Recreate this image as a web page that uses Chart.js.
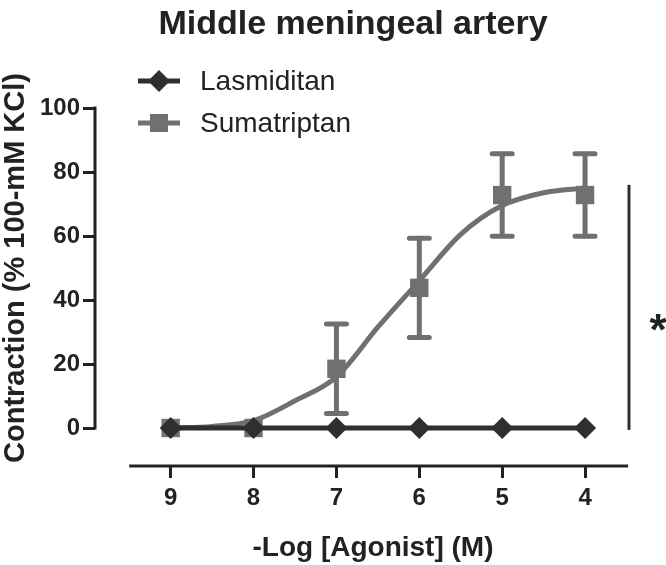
<!DOCTYPE html>
<html>
<head>
<meta charset="utf-8">
<script src="https://cdn.jsdelivr.net/npm/chart.js@4/dist/chart.umd.min.js"></script>
<style>
html, body { margin: 0; padding: 0; background: #fff; }
#myChart { display: block; }
</style>
</head>
<body>
<canvas id="myChart" width="666" height="565"></canvas>
<script>
// 数据 - Middle meningeal artery
var doses = [9, 8, 7, 6, 5, 4];
var lasmiditanMean = [0, 0, 0, 0, 0, 0];
var sumatriptanMean = [0, 0, 18.5, 43.8, 72.8, 72.8];
var sumatriptanSEM = [0, 0, 14, 15.5, 12.9, 12.9];
// fitted curve
var fitDoses = [9, 8.5, 8, 7.5, 7, 6.5, 6, 5.5, 5, 4.5, 4];
var sumatriptanFit = [0, 0.5, 2.3, 8.5, 16, 31.5, 46, 60.5, 69.5, 73.5, 75];
var xTicks = [9, 8, 7, 6, 5, 4];
var yTicks = [0, 20, 40, 60, 80, 100];
var seriesNames = ['Lasmiditan', 'Sumatriptan'];
var titleText = 'Middle meningeal artery';
var xTitle = '-Log [Agonist] (M)';
var yTitle = 'Contraction (% 100-mM KCl)';
var sigLabel = '*';

var darkColor = '#2f2f2f';
var sumaColor = '#707070';
var textColor = '#222';
var fontFamily = '"Liberation Sans", Arial, sans-serif';

function toXY(xs, ys) {
    return xs.map(function (v, i) { return { x: v, y: ys[i] }; });
}

// 坐标轴、标题、图例、误差线
var extras = {
    id: 'extras',
    beforeDatasetsDraw: function (chart) {
        var ctx = chart.ctx, xs = chart.scales.x, ys = chart.scales.y;
        ctx.save();
        ctx.strokeStyle = sumaColor;
        ctx.lineWidth = 5;
        ctx.lineCap = 'round';
        doses.forEach(function (d, i) {
            if (!sumatriptanSEM[i]) return;
            var px = xs.getPixelForValue(d);
            var top = ys.getPixelForValue(sumatriptanMean[i] + sumatriptanSEM[i]);
            var bot = ys.getPixelForValue(sumatriptanMean[i] - sumatriptanSEM[i]);
            ctx.beginPath();
            ctx.moveTo(px, top); ctx.lineTo(px, bot);
            ctx.moveTo(px - 10, top); ctx.lineTo(px + 10, top);
            ctx.moveTo(px - 10, bot); ctx.lineTo(px + 10, bot);
            ctx.stroke();
        });
        ctx.restore();
    },
    afterDraw: function (chart) {
        var ctx = chart.ctx, xs = chart.scales.x, ys = chart.scales.y, area = chart.chartArea;
        ctx.save();
        // axis lines (offset, Prism style)
        ctx.strokeStyle = '#222';
        ctx.lineWidth = 3;
        ctx.beginPath();
        ctx.moveTo(area.left, ys.getPixelForValue(0) + 1.5);
        ctx.lineTo(area.left, ys.getPixelForValue(100) - 1.5);
        ctx.moveTo(xs.getPixelForValue(9.5), area.bottom);
        ctx.lineTo(xs.getPixelForValue(3.48), area.bottom);
        ctx.stroke();

        // significance bar
        var sx = xs.getPixelForValue(3.47);
        ctx.strokeStyle = darkColor;
        ctx.lineWidth = 3;
        ctx.beginPath();
        ctx.moveTo(sx, ys.getPixelForValue(76));
        ctx.lineTo(sx, ys.getPixelForValue(-0.6));
        ctx.stroke();
        ctx.fillStyle = textColor;
        ctx.font = 'bold 44px ' + fontFamily;
        ctx.textAlign = 'center';
        ctx.textBaseline = 'alphabetic';
        ctx.fillText(sigLabel, sx + 29, ys.getPixelForValue(33.75) + 25);

        // title
        ctx.textBaseline = 'middle';
        ctx.font = 'bold 34px ' + fontFamily;
        ctx.fillText(titleText, 353, 25);

        // axis titles
        ctx.font = 'bold 28px ' + fontFamily;
        ctx.fillText(xTitle, 373, 548);
        ctx.save();
        ctx.translate(16, 268);
        ctx.rotate(-Math.PI / 2);
        ctx.font = 'bold 29px ' + fontFamily;
        ctx.fillText(yTitle, 0, 0);
        ctx.restore();

        // legend
        var rows = [81, 123];
        ctx.font = '28px ' + fontFamily;
        ctx.textAlign = 'left';
        rows.forEach(function (ry, i) {
            var col = i === 0 ? darkColor : sumaColor;
            ctx.strokeStyle = col;
            ctx.fillStyle = col;
            ctx.lineWidth = 5;
            ctx.beginPath();
            ctx.moveTo(138, ry); ctx.lineTo(180, ry);
            ctx.stroke();
            ctx.beginPath();
            if (i === 0) {
                ctx.moveTo(159, ry - 11); ctx.lineTo(170, ry);
                ctx.lineTo(159, ry + 11); ctx.lineTo(148, ry);
                ctx.closePath();
            } else {
                ctx.rect(150, ry - 9, 18, 18);
            }
            ctx.fill();
            ctx.fillStyle = textColor;
            ctx.fillText(seriesNames[i], 200, ry + 1);
        });
        ctx.restore();
    }
};

function initChart() {
    var ctx = document.getElementById('myChart');
    var data = {
        datasets: [{
            label: seriesNames[0],
            data: toXY(doses, lasmiditanMean),
            showLine: true,
            borderColor: darkColor,
            backgroundColor: darkColor,
            borderWidth: 5,
            pointStyle: 'rectRot',
            pointRadius: 11,
            pointBorderWidth: 0,
            clip: false,
            order: 0
        }, {
            label: seriesNames[1],
            data: toXY(doses, sumatriptanMean),
            showLine: false,
            borderColor: sumaColor,
            backgroundColor: sumaColor,
            pointStyle: 'rect',
            pointRadius: 13,
            pointBorderWidth: 0,
            clip: false,
            order: 2
        }, {
            label: 'Sumatriptan fit',
            data: toXY(fitDoses, sumatriptanFit),
            showLine: true,
            borderColor: sumaColor,
            borderWidth: 5,
            pointRadius: 0,
            cubicInterpolationMode: 'monotone',
            clip: false,
            order: 1
        }]
    };
    var tickFont = { family: fontFamily, size: 24, weight: 'bold' };
    var config = {
        type: 'scatter',
        data: data,
        options: {
            responsive: false,
            animation: false,
            devicePixelRatio: 1,
            layout: { padding: { top: 108, right: 26, left: 0, bottom: 0 } },
            plugins: { legend: { display: false }, tooltip: { enabled: false } },
            scales: {
                x: {
                    type: 'linear',
                    reverse: true,
                    min: 3.337,
                    max: 9.913,
                    afterBuildTicks: function (s) { s.ticks = xTicks.map(function (v) { return { value: v }; }); },
                    afterFit: function (s) { s.height = 99; },
                    ticks: { color: textColor, font: tickFont, padding: 6, autoSkip: false, maxRotation: 0 },
                    grid: { drawOnChartArea: false, drawTicks: true, tickLength: 12, lineWidth: 3, color: '#222' },
                    border: { display: false }
                },
                y: {
                    min: -11.875,
                    max: 100,
                    afterBuildTicks: function (s) { s.ticks = yTicks.map(function (v) { return { value: v }; }); },
                    afterFit: function (s) { s.width = 95; },
                    ticks: { color: textColor, font: tickFont, padding: 3 },
                    grid: { drawOnChartArea: false, drawTicks: true, tickLength: 12, lineWidth: 3, color: '#222' },
                    border: { display: false }
                }
            }
        },
        plugins: [extras]
    };
    new Chart(ctx, config);
}

initChart();
</script>
</body>
</html>
